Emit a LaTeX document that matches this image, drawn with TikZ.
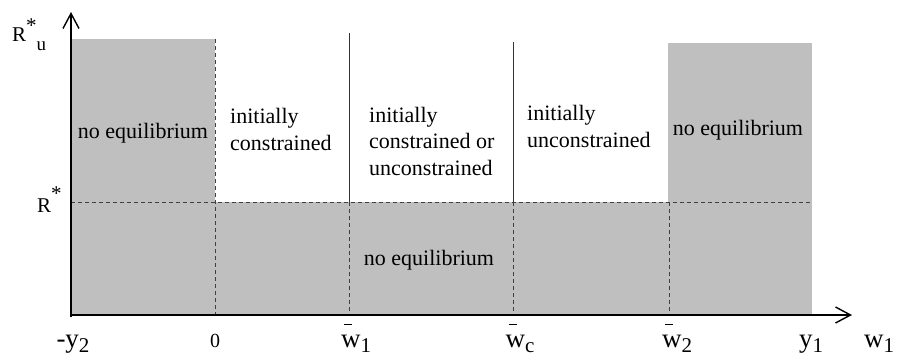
\documentclass[tikz,border=0pt]{standalone}
\usepackage{fontspec}
\setmainfont{Liberation Serif}
\usetikzlibrary{arrows.meta}
\definecolor{regiongray}{RGB}{191,191,191}
\newcommand{\lowsub}[1]{\raisebox{-0.22em}{\fontsize{21}{21}\selectfont #1}}
\newcommand{\barw}{\makebox[0pt][l]{\hspace{0.12em}\rule[0.82em]{0.3em}{0.045em}}w}

\begin{document}
\begin{tikzpicture}[x=1pt,y=-1pt,
  lbl/.style={font=\fontsize{22}{26.5}\selectfont,inner sep=0pt,align=left},
  tick/.style={font=\fontsize{27}{27}\selectfont,inner sep=0pt,anchor=base},
  rlbl/.style={font=\fontsize{21}{21}\selectfont,inner sep=0pt,anchor=base west},
  bound/.style={draw=black!75,dash pattern=on 4pt off 3pt,line width=0.8pt},
  sep/.style={draw=black!80,line width=0.9pt},
  axis/.style={line width=1.4pt,-{Straight Barb[length=15pt,width=16pt,line width=1.4pt]}}]
  \useasboundingbox (0,0) rectangle (900,360);
  % regions without equilibrium
  \fill[regiongray] (71,39) rectangle (215,315);
  \fill[regiongray] (668,43) rectangle (812,315);
  \fill[regiongray] (71,202) rectangle (812,315);
  % boundaries
  \coordinate (zero) at (215,315); \coordinate (wone) at (349,315); \coordinate (wc) at (513,315); \coordinate (wtwo) at (669,315);
  \coordinate (rstar) at (71,202); \coordinate (yone) at (812,202);
  \draw[bound] (215,39) -- (zero);
  \draw[bound] (rstar) -- (yone);
  \draw[sep] (349,33) -- (349,202); \draw[bound] (349,202) -- (wone);
  \draw[sep] (513,42) -- (513,202); \draw[bound] (513,202) -- (wc);
  \draw[bound] (669,202) -- (wtwo);
  % axes
  \coordinate (O) at (71,315); \coordinate (ytop) at (71,12); \coordinate (xend) at (852,315);
  \draw[axis] (71,316.5) -- (ytop); \draw[axis] (70,315) -- (xend);
  \node[rlbl] (Ru) at (12,41) {R\raisebox{0.42em}{*}\raisebox{-0.45em}{\fontsize{19}{19}\selectfont u}};
  \node[rlbl] (Rs) at (37,212) {R\raisebox{0.55em}{*}};
  % region labels
  \node[lbl,anchor=base] (noeqa) at (143,138) {no equilibrium};
  \node[lbl,anchor=base west] (inicon) at (230,150) {initially\\constrained};
  \node[lbl,anchor=base west] (iniboth) at (369,175) {initially\\constrained or\\unconstrained};
  \node[lbl,anchor=base west] (iniunc) at (527,147) {initially\\unconstrained};
  \node[lbl,anchor=base] (noeqb) at (738,135) {no equilibrium};
  \node[lbl,anchor=base] (noeqc) at (429,265) {no equilibrium};
  % ticks
  \node[tick] (ty2) at (73,347) {-y\lowsub{2}};
  \node[tick,font=\fontsize{20}{20}\selectfont] (t0) at (215,347) {0};
  \node[tick] (tw1) at (356,347) {\barw\lowsub{1}};
  \node[tick] (twc) at (520,347) {\barw\lowsub{c}};
  \node[tick] (tw2) at (677,347) {\barw\lowsub{2}};
  \node[tick] (ty1) at (811,347) {y\lowsub{1}};
  \node[tick] (tx) at (879,347) {w\lowsub{1}};
\end{tikzpicture}
\end{document}
